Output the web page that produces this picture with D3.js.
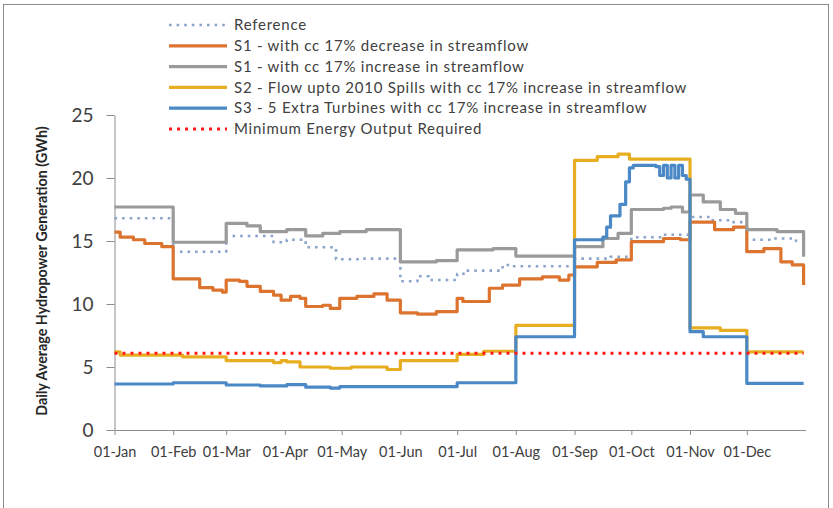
<!DOCTYPE html>
<html lang="en">
<head>
<meta charset="utf-8">
<title>Daily Average Hydropower Generation</title>
<script src="https://d3js.org/d3.v7.min.js"></script>
<style>
  body { margin: 0; background: #fff; }
  svg text { font-family: Lato, "Open Sans", sans-serif; }
</style>
</head>
<body>
<svg id="chart" width="833" height="508"></svg>
<script>
// day of year (0 = 01-Jan), values in GWh
const monthDays = [0, 31, 59, 90, 120, 151, 181, 212, 243, 273, 304, 334];
const monthLabels = ['01-Jan','01-Feb','01-Mar','01-Apr','01-May','01-Jun',
                     '01-Jul','01-Aug','01-Sep','01-Oct','01-Nov','01-Dec'];
const yTicks = [0, 5, 10, 15, 20, 25];

const reference = [[0,16.8],[31,14.15],[59,15.4],[84,14.9],[91,15.1],[101,14.5],[117,13.55],
  [131,13.6],[151,11.8],[160,12.2],[166,11.9],[181,12.4],[186,12.65],[205,13.1],[209,13.0],
  [243,13.6],[262,13.75],[273,15.3],[290,15.5],[304,16.9],[315,16.65],[325,16.5],[334,15.1],
  [346,15.2],[360,15.0],[364,14.9]];

const s1Decrease = [[0,15.7],[3,15.3],[10,15.1],[16,14.8],[25,14.55],[31,12.0],[45,11.3],
  [52,11.1],[57,10.95],[59,11.9],[66,11.8],[70,11.4],[77,11.0],[84,10.7],[88,10.3],[93,10.6],
  [98,10.45],[101,9.8],[110,9.9],[114,9.65],[119,10.45],[128,10.6],[137,10.8],[144,10.3],
  [151,9.3],[160,9.2],[170,9.4],[181,10.45],[184,10.2],[198,11.25],[205,11.5],[214,12.0],
  [226,12.15],[235,11.9],[240,12.3],[243,12.95],[255,13.3],[265,13.5],[273,14.95],[290,15.2],
  [299,15.1],[304,16.5],[317,15.9],[327,16.1],[334,14.15],[343,14.4],[352,13.35],[358,13.1],
  [364,11.5]];

const s1Increase = [[0,17.7],[31,14.9],[59,16.4],[70,16.2],[77,15.75],[91,15.9],[101,15.4],
  [110,15.6],[119,15.75],[133,15.9],[151,13.35],[170,13.45],[181,14.3],[200,14.4],[212,13.8],
  [243,14.55],[258,15.2],[266,15.6],[273,17.5],[290,17.6],[294,17.7],[300,17.3],[304,18.65],
  [311,18.1],[320,17.5],[328,17.2],[334,15.9],[350,15.75],[364,13.75]];

const s2Spills = [[0,6.2],[3,5.95],[36,5.8],[59,5.5],[84,5.35],[88,5.5],[91,5.4],[98,5.0],
  [114,4.9],[125,5.0],[144,4.8],[151,5.5],[181,6.0],[195,6.25],[212,8.3],[243,21.4],
  [255,21.7],[266,21.9],[272,21.5],[304,8.1],[320,7.9],[334,6.2],[364,6.2]];

const s3Turbines = [[0,3.65],[31,3.75],[59,3.57],[77,3.5],[91,3.6],[101,3.4],[114,3.33],
  [119,3.45],[151,3.45],[181,3.75],[212,7.4],[243,15.1],[258,15.3],[260,16.1],[262,17.0],
  [267,17.9],[270,19.7],[272,20.8],[274,21.0],[286,20.9],[288,20.2],[290,21.0],[292,20.0],
  [294,21.0],[296,20.0],[298,21.0],[300,20.2],[302,19.9],[304,7.8],[311,7.4],[334,3.7],
  [364,3.7]];

const minEnergy = [[0,6.1],[364,6.1]];

const legendLabels = ['Reference',
  'S1 - with cc 17% decrease in streamflow',
  'S1 - with cc 17% increase in streamflow',
  'S2 - Flow upto 2010 Spills with cc 17% increase in streamflow',
  'S3 - 5 Extra Turbines with cc 17% increase in streamflow',
  'Minimum Energy Output Required'];

const series = [
  {data: reference,  color: '#8aa4ca', width: 2.6, dash: '2.6,5'},
  {data: s1Decrease, color: '#dc7430', width: 3.2},
  {data: s1Increase, color: '#9a9a9a', width: 3.2},
  {data: s2Spills,   color: '#e8ae22', width: 3.2},
  {data: s3Turbines, color: '#4b89c6', width: 3.2},
  {data: minEnergy,  color: '#ff1a1a', width: 3,   dash: '3,5'}
];

const svg = d3.select('#chart');

// outer frame
svg.append('rect')
  .attr('x', 3.5).attr('y', 4.5).attr('width', 825).attr('height', 600)
  .attr('fill', 'none').attr('stroke', '#8c8c8c').attr('stroke-width', 1);

const x = d3.scaleLinear().domain([0, 365]).range([114.5, 805.5]);
const y = d3.scaleLinear().domain([0, 25]).range([430, 115]);

// axes
const xAxis = svg.append('g').attr('transform', 'translate(0,430)')
  .call(d3.axisBottom(x).tickValues(monthDays)
    .tickFormat((d, i) => monthLabels[i]).tickSize(5).tickSizeOuter(0));
xAxis.select('.domain').attr('stroke', '#8c8c8c');
xAxis.selectAll('.tick line').attr('stroke', '#8c8c8c');
xAxis.selectAll('.tick text').attr('fill', '#404040').attr('font-size', 14.5).attr('dy', '1.3em');

const yAxis = svg.append('g').attr('transform', 'translate(114.5,0)')
  .call(d3.axisLeft(y).tickValues(yTicks).tickSize(8).tickSizeOuter(0).tickPadding(13));
yAxis.select('.domain').attr('stroke', '#8c8c8c');
yAxis.selectAll('.tick line').attr('stroke', '#8c8c8c');
yAxis.selectAll('.tick text').attr('fill', '#404040').attr('font-size', 19);

svg.append('text')
  .attr('transform', 'translate(47,271) rotate(-90)')
  .attr('text-anchor', 'middle')
  .attr('font-size', 14.3).attr('font-weight', 'bold').attr('fill', '#262626')
  .text('Daily Average Hydropower Generation (GWh)');

// lines
const line = d3.line()
  .x(d => x(d[0]))
  .y(d => y(d[1]))
  .curve(d3.curveStepAfter);

series.forEach(s => {
  svg.append('path')
    .datum(s.data)
    .attr('d', line)
    .attr('fill', 'none')
    .attr('stroke', s.color)
    .attr('stroke-width', s.width)
    .attr('stroke-dasharray', s.dash || null)
    .attr('stroke-linejoin', 'round');
});

// legend
const legend = svg.append('g');
legendLabels.forEach((label, i) => {
  const s = series[i];
  const ly = 25 + i * 20.8;
  legend.append('line')
    .attr('x1', 169).attr('x2', 227).attr('y1', ly).attr('y2', ly)
    .attr('stroke', s.color).attr('stroke-width', s.width)
    .attr('stroke-dasharray', s.dash || null);
  legend.append('text')
    .attr('x', 234).attr('y', ly).attr('dy', '0.35em')
    .attr('font-size', 15).attr('letter-spacing', 0.75).attr('fill', '#404040')
    .text(label);
});
</script>
</body>
</html>
